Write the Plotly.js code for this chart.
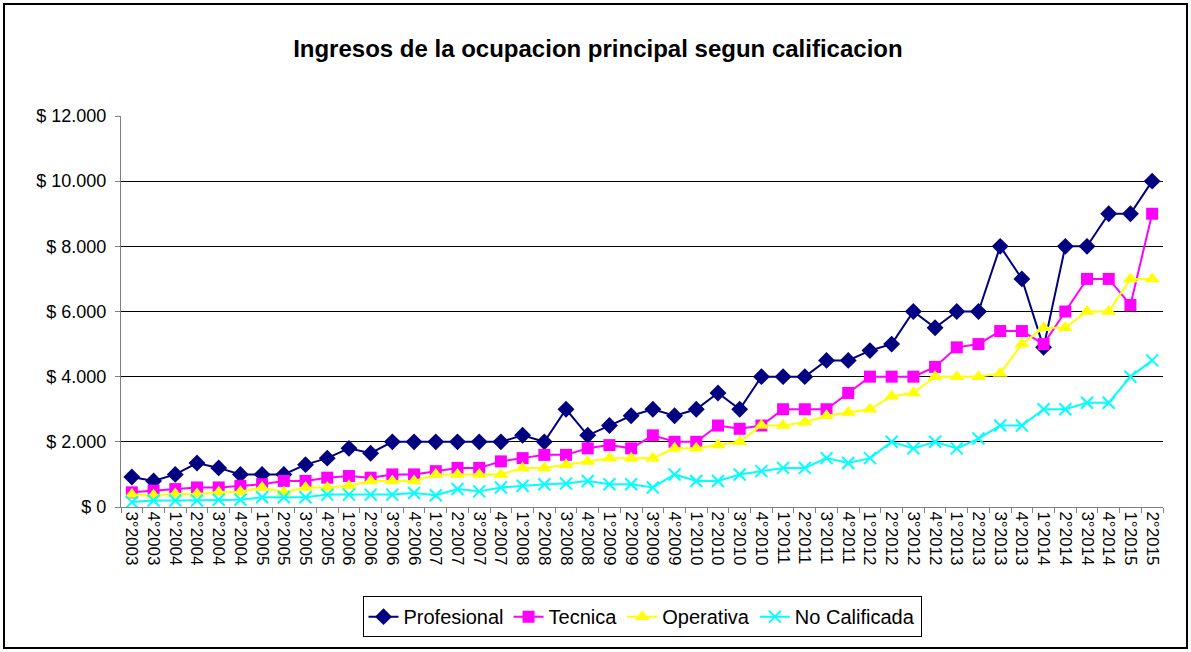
<!DOCTYPE html>
<html>
<head>
<meta charset="utf-8">
<script src="https://cdn.plot.ly/plotly-3.0.1.min.js"></script>
<style>
body{margin:0;padding:0;background:#fff;}
#wrap{position:relative;width:1191px;height:652px;}
#chart{width:1191px;height:652px;}
#frame{position:absolute;left:3px;top:3px;width:1181px;height:642px;border:2px solid #000;pointer-events:none;}
</style>
</head>
<body>
<div id="wrap"><div id="chart"></div><div id="frame"></div></div>
<script>
const categories = ["3°2003","4°2003",
 "1°2004","2°2004","3°2004","4°2004",
 "1°2005","2°2005","3°2005","4°2005",
 "1°2006","2°2006","3°2006","4°2006",
 "1°2007","2°2007","3°2007","4°2007",
 "1°2008","2°2008","3°2008","4°2008",
 "1°2009","2°2009","3°2009","4°2009",
 "1°2010","2°2010","3°2010","4°2010",
 "1°2011","2°2011","3°2011","4°2011",
 "1°2012","2°2012","3°2012","4°2012",
 "1°2013","2°2013","3°2013","4°2013",
 "1°2014","2°2014","3°2014","4°2014",
 "1°2015","2°2015"];

const profesional = [920,800,1000,1350,1200,1000,1000,1000,1300,1500,1800,1650,
 2000,2000,2000,2000,2000,2000,2200,2000,3000,2200,2500,2800,3000,2800,3000,3500,
 3000,4000,4000,4000,4500,4500,4800,5000,6000,5500,6000,6000,8000,7000,4900,8000,
 8000,9000,9000,10000];

const tecnica = [450,500,550,600,600,650,700,800,800,900,950,900,
 1000,1000,1100,1200,1200,1400,1500,1600,1600,1800,1900,1800,2200,2000,2000,2500,
 2400,2500,3000,3000,3000,3500,4000,4000,4000,4300,4900,5000,5400,5400,5000,6000,
 7000,7000,6200,9000];

const operativa = [380,360,400,400,450,470,600,450,600,600,650,800,
 800,800,1000,1000,1000,1000,1200,1200,1300,1400,1500,1500,1500,1800,1800,1900,
 2000,2500,2500,2600,2800,2900,3000,3400,3500,4000,4000,4000,4100,5000,5500,5500,
 6000,6000,7000,7000];

const noCalificada = [150,200,200,200,220,220,300,300,300,380,380,380,
 380,430,360,550,480,600,650,700,720,800,700,700,600,1000,800,800,
 1000,1100,1200,1200,1500,1350,1500,2000,1800,2000,1800,2100,2500,2500,3000,3000,
 3200,3200,4000,4500];

const seriesNames = ["Profesional","Tecnica","Operativa","No Calificada"];

const traces = [
 {x:categories,y:profesional,name:seriesNames[0],type:'scatter',mode:'lines+markers',
  line:{color:'#000080',width:2},marker:{symbol:'diamond',size:13,color:'#000080'}},
 {x:categories,y:tecnica,name:seriesNames[1],type:'scatter',mode:'lines+markers',
  line:{color:'#FF00FF',width:2},marker:{symbol:'square',size:12,color:'#FF00FF'}},
 {x:categories,y:operativa,name:seriesNames[2],type:'scatter',mode:'lines+markers',
  line:{color:'#FFFF00',width:2},marker:{symbol:'triangle-up',size:13,color:'#FFFF00'}},
 {x:categories,y:noCalificada,name:seriesNames[3],type:'scatter',mode:'lines+markers',
  line:{color:'#00FFFF',width:2},marker:{symbol:'x-thin-open',size:12,color:'#00FFFF',line:{color:'#00FFFF',width:2}}}
];

const layout = {
 width:1191,height:652,
 paper_bgcolor:'rgba(0,0,0,0)',plot_bgcolor:'#fff',
 separators:',.',
 font:{family:'"Liberation Sans", Arial, sans-serif',color:'#000',size:14},
 margin:{l:121,r:28,t:116,b:145},
 title:{text:'<b>Ingresos de la ocupacion principal segun calificacion</b>',
  font:{size:24,family:'"Liberation Sans", Arial, sans-serif',color:'#000'},
  x:0.502,xanchor:'center',y:0.926,yanchor:'middle'},
 xaxis:{type:'category',tickangle:90,ticks:'outside',ticklen:5,tickcolor:'#808080',
  tickson:'boundaries',showline:true,linecolor:'#808080',linewidth:1,showgrid:false,
  tickfont:{size:17},range:[-0.5,47.5],fixedrange:true},
 yaxis:{range:[0,12000],dtick:2000,tickformat:',d',tickprefix:'$ ',ticks:'outside',ticklen:5,
  ticklabelstandoff:5,
  tickcolor:'#808080',showline:true,linecolor:'#808080',linewidth:1,
  showgrid:true,gridcolor:'#000',gridwidth:1,zeroline:false,tickfont:{size:18},fixedrange:true},
 showlegend:true,
 legend:{orientation:'h',x:0.5,xanchor:'center',y:-0.228,yanchor:'top',
  bordercolor:'#000',borderwidth:1,bgcolor:'#fff',font:{size:20},
  itemwidth:30,tracegroupgap:0}
};

Plotly.newPlot('chart',traces,layout,{displayModeBar:false,staticPlot:true});
</script>
</body>
</html>
